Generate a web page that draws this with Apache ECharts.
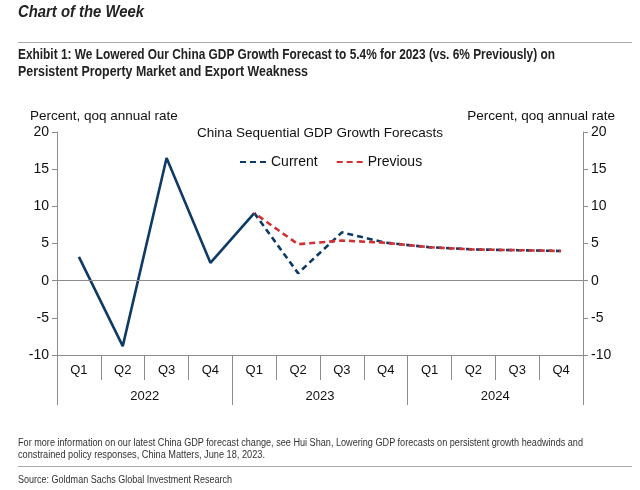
<!DOCTYPE html>
<html><head><meta charset="utf-8">
<script src="https://cdn.jsdelivr.net/npm/echarts@6/dist/echarts.min.js"></script>
<style>
html,body{margin:0;padding:0;background:#fff;}
#wrap{position:relative;width:640px;height:490px;overflow:hidden;font-family:"Liberation Sans",Arial,sans-serif;}
#chart{position:absolute;left:0;top:0;width:640px;height:490px;}
.t{position:absolute;left:18px;white-space:nowrap;transform-origin:0 0;color:#222;}
.rule{position:absolute;left:18px;width:614px;height:0;border-top:1px solid #aaa;}
</style></head>
<body><div id="wrap">
<div id="chart"></div>
<div class="t fit" data-w="126" style="top:2px;font-size:17px;font-weight:bold;font-style:italic;">Chart of the Week</div>
<div class="rule" style="top:42px;"></div>
<div class="t fit" data-w="537" style="top:46px;font-size:14px;font-weight:bold;">Exhibit 1: We Lowered Our China GDP Growth Forecast to 5.4% for 2023 (vs. 6% Previously) on</div>
<div class="t fit" data-w="290" style="top:63px;font-size:14px;font-weight:bold;">Persistent Property Market and Export Weakness</div>
<div class="t fit" data-w="565" style="top:437px;font-size:10px;color:#333;">For more information on our latest China GDP forecast change, see Hui Shan, Lowering GDP forecasts on persistent growth headwinds and</div>
<div class="t fit" data-w="247" style="top:449px;font-size:10px;color:#333;">constrained policy responses, China Matters, June 18, 2023.</div>
<div class="rule" style="top:466px;"></div>
<div class="t fit" data-w="214" style="top:474px;font-size:10px;color:#333;">Source: Goldman Sachs Global Investment Research</div>
</div>
<script>
document.querySelectorAll('.fit').forEach(function(el){
  var w = el.getBoundingClientRect().width;
  var target = +el.getAttribute('data-w');
  el.style.transform = 'scaleX(' + (target / w) + ')';
});

var quarters = ['Q1','Q2','Q3','Q4','Q1','Q2','Q3','Q4','Q1','Q2','Q3','Q4'];
var years = ['2022','2023','2024'];
var actual = [3.2, -8.8, 16.5, 2.4, 9.1, null, null, null, null, null, null, null];
var current = [null, null, null, null, 9.1, 1.0, 6.5, 5.1, 4.5, 4.2, 4.1, 4.0];
var previous = [null, null, null, null, 9.1, 4.9, 5.4, 5.1, 4.5, 4.2, 4.1, 4.0];
var yTicks = [-10, -5, 0, 5, 10, 15, 20];

var NAVY = '#0e3a66', RED = '#d03234', AX = '#8c8c8c';
var font = '"Liberation Sans", Arial, sans-serif';

var chart = echarts.init(document.getElementById('chart'), null, {renderer:'canvas'});
var yAxisBase = function(pos){
  return {
    type:'value', position:pos, min:yTicks[0], max:yTicks[yTicks.length-1], interval:5,
    axisLine:{show:true, lineStyle:{color:AX, width:1}},
    axisTick:{show:true, length:5, lineStyle:{color:AX}},
    axisLabel:{color:'#111', fontSize:14, fontFamily:font, margin:8},
    splitLine:{show:false}
  };
};
chart.setOption({
  animation:false,
  grid:{left:57, right:57, top:132, bottom:135},
  title:{text:'China Sequential GDP Growth Forecasts', left:'center', top:121,
    textStyle:{fontSize:13.5, fontWeight:'normal', color:'#111', fontFamily:font}},
  legend:{data:['Current','Previous'], top:150, left:234, itemWidth:28, itemHeight:10, itemGap:18,
    textStyle:{fontSize:14, color:'#111', fontFamily:font, padding:[0,0,0,-2]},
    itemStyle:{opacity:0}, lineStyle:{dashOffset:0}},
  graphic:[
    {type:'text', left:30, top:109, style:{text:'Percent, qoq annual rate', fontSize:13.5, fill:'#111', fontFamily:font}},
    {type:'text', right:25, top:109, style:{text:'Percent, qoq annual rate', fontSize:13.5, fill:'#111', fontFamily:font}}
  ],
  xAxis:[
    {type:'category', data:quarters, position:'bottom', boundaryGap:true,
      axisLine:{show:true, onZero:false, lineStyle:{color:AX}},
      axisTick:{show:true, length:25, interval:0, lineStyle:{color:AX}},
      axisLabel:{color:'#111', fontSize:13, fontFamily:font, margin:9, interval:0}},
    {type:'category', data:years, position:'bottom', boundaryGap:true,
      axisLine:{show:false, onZero:false},
      axisTick:{show:true, length:50, interval:0, lineStyle:{color:AX}},
      axisLabel:{color:'#111', fontSize:13, fontFamily:font, margin:35, interval:0}}
  ],
  yAxis:[yAxisBase('left'), yAxisBase('right')],
  series:[
    {name:'Actual', type:'line', data:actual, symbol:'none', connectNulls:false, xAxisIndex:0, yAxisIndex:0,
      lineStyle:{color:NAVY, width:2.6}, itemStyle:{color:NAVY}, z:3,
      markLine:{silent:true, symbol:'none', label:{show:false}, lineStyle:{color:AX, type:'solid', width:1},
        data:[{yAxis:0}], animation:false}},
    {name:'Current', type:'line', data:current, symbol:'none', xAxisIndex:0, yAxisIndex:0,
      lineStyle:{color:NAVY, width:2.6, type:[6,4]}, itemStyle:{color:NAVY}, z:3},
    {name:'Previous', type:'line', data:previous, symbol:'none', xAxisIndex:0, yAxisIndex:0,
      lineStyle:{color:RED, width:2.6, type:[6,4], dashOffset:5}, itemStyle:{color:RED}, z:4}
  ]
});
</script>
</body></html>
